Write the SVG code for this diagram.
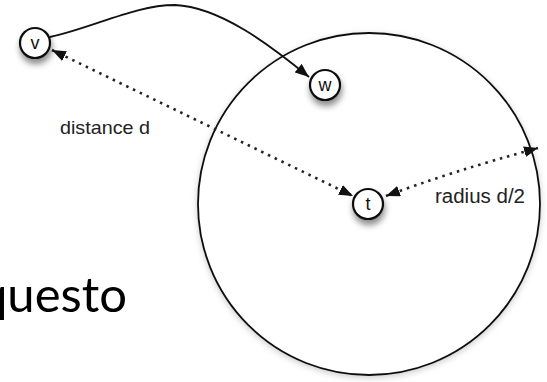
<svg xmlns="http://www.w3.org/2000/svg" width="547" height="382" viewBox="0 0 547 382">
<defs>
<style>
.node{fill:#fff;stroke:#111;stroke-width:2.2}
.lbl{font-family:"Liberation Sans",Arial,sans-serif;fill:#222}
.nl{font-family:"Liberation Sans",Arial,sans-serif;font-size:18px;fill:#111;text-anchor:middle}
.solid{fill:none;stroke:#111;stroke-width:1.8}
.dot{fill:none;stroke:#222;stroke-width:2.6;stroke-dasharray:2.5 5}
</style>
<filter id="sh" x="-50%" y="-50%" width="200%" height="200%">
<feDropShadow dx="1" dy="5" stdDeviation="3" flood-color="#000" flood-opacity="0.45"/>
</filter>
<filter id="csh" x="-10%" y="-10%" width="120%" height="120%">
<feDropShadow dx="0" dy="2" stdDeviation="3" flood-color="#000" flood-opacity="0.2"/>
</filter>
<marker id="ah" viewBox="0 0 14 11" refX="14" refY="5.5" markerWidth="14" markerHeight="11" markerUnits="userSpaceOnUse" orient="auto-start-reverse">
<path d="M0,0 L14,5.5 L0,11 z" fill="#111"/>
</marker>
</defs>
<rect width="547" height="382" fill="#fff"/>
<g id="region">
<circle cx="369" cy="204" r="171" fill="#fff" stroke="#111" stroke-width="1.8" filter="url(#csh)"/>
</g>
<g id="connectors">
<path class="solid" d="M50 37 C95 27,135 5,175 5 C220 7,270 45,309 77" marker-end="url(#ah)"/>
<path class="dot" d="M52 50 L353 196" marker-start="url(#ah)" marker-end="url(#ah)"/>
<path class="dot" d="M386 196 Q450 172 538 148" marker-start="url(#ah)" marker-end="url(#ah)"/>
</g>
<g id="node-v">
<circle class="node" cx="35" cy="43" r="15" filter="url(#sh)"/>
<text class="nl" x="35" y="49">v</text>
</g>
<g id="node-w">
<circle class="node" cx="325" cy="85" r="15" filter="url(#sh)"/>
<text class="nl" x="325" y="91">w</text>
</g>
<g id="node-t">
<circle class="node" cx="368" cy="204" r="15" filter="url(#sh)"/>
<text class="nl" x="368" y="210">t</text>
</g>
<g id="labels">
<text class="lbl" x="60" y="134" font-size="19" textLength="90" lengthAdjust="spacingAndGlyphs">distance d</text>
<text class="lbl" x="435" y="203" font-size="19.5" textLength="90" lengthAdjust="spacingAndGlyphs">radius d/2</text>
<text x="127" y="312" font-family="Lato,'Open Sans',sans-serif" font-size="49" fill="#000" text-anchor="end">questo</text>
</g>
</svg>
